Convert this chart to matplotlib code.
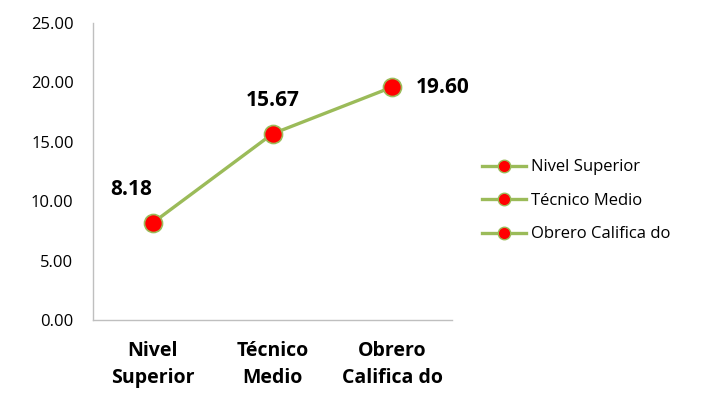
import matplotlib
matplotlib.use('Agg')
import matplotlib.pyplot as plt

categories = ['Nivel\nSuperior', 'Técnico\nMedio', 'Obrero\nCalifica do']
legend_names = ['Nivel Superior', 'Técnico Medio', 'Obrero Califica do']
values = [8.18, 15.67, 19.60]
y_ticks = [0, 5, 10, 15, 20, 25]

plt.rcParams['font.family'] = ['Open Sans', 'DejaVu Sans']

line_color = '#9BBB59'
marker_color = '#FF0000'
spine_color = '#BFBFBF'

fig = plt.figure(figsize=(7.12, 4.01), dpi=100)
ax = fig.add_axes([0.1306, 0.202, 0.5045, 0.741])

x = list(range(len(values)))
ax.plot(x, values, color=line_color, linewidth=2.4, marker='o', markersize=13,
        markerfacecolor=marker_color, markeredgecolor=line_color, markeredgewidth=1.2,
        zorder=3)

# data labels: left-above, above, right
offsets = [(-22, 33), (0, 33), (23, 0)]
aligns = ['center', 'center', 'left']
for xi, v, off, ha in zip(x, values, offsets, aligns):
    ax.annotate(f'{v:.2f}', (xi, v), xytext=off, textcoords='offset pixels',
                ha=ha, va='center', fontsize=15, fontweight='bold', color='#000000')

ax.set_xlim(-0.5, 2.5)
ax.set_ylim(0, 25)
ax.set_yticks(y_ticks)
ax.set_yticklabels([f'{t:.2f}' for t in y_ticks], fontsize=12)
ax.set_xticks(x)
ax.set_xticklabels(categories, fontsize=14, fontweight='bold', linespacing=1.5)
ax.tick_params(axis='both', length=0)
ax.tick_params(axis='y', pad=14)
ax.tick_params(axis='x', pad=15)

for side in ('top', 'right'):
    ax.spines[side].set_visible(False)
for side in ('left', 'bottom'):
    ax.spines[side].set_color(spine_color)
    ax.spines[side].set_linewidth(1.0)

handles = []
for name in legend_names:
    h, = ax.plot([], [], color=line_color, linewidth=2.4, marker='o', markersize=9,
                 markerfacecolor=marker_color, markeredgecolor=line_color,
                 markeredgewidth=1.0, label=name)
    handles.append(h)
fig.legend(handles=handles, loc='center left', bbox_to_anchor=(0.668, 0.499),
           frameon=False, fontsize=12, handlelength=2.6, handletextpad=0.3,
           labelspacing=1.05, borderaxespad=0.0)

fig.savefig('out.png', dpi=100)
